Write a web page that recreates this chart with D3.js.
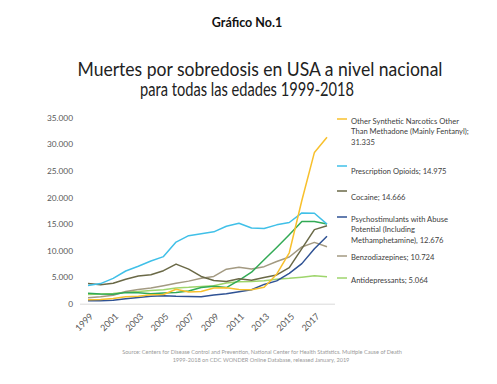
<!DOCTYPE html>
<html><head><meta charset="utf-8">
<script src="https://cdn.jsdelivr.net/npm/d3@7"></script>
<style>
body{margin:0;background:#fff;}
svg{display:block;font-family:Lato,"Open Sans",sans-serif;}
</style></head>
<body>
<svg id="c" width="497" height="384"></svg>
<script>
const years = d3.range(1999, 2019);
const tickYears = [1999,2001,2003,2005,2007,2009,2011,2013,2015,2017];
const yTicks = [0,5000,10000,15000,20000,25000,30000,35000];

const synthetic = [730,782,957,1295,1400,1664,1742,2707,2213,2306,2946,3007,2666,2628,3105,5544,9580,19413,28466,31335];
const prescription = [3442,3785,4770,6155,7038,8025,8863,11589,12796,13149,13523,14583,15140,14240,14145,14838,15281,17087,17029,14975];
const cocaine = [3822,3544,3833,4599,5199,5443,6208,7448,6512,5129,4350,4183,4681,4404,4944,5415,6784,10375,13942,14666];
const psychostim = [547,578,662,946,1169,1420,1475,1395,1378,1302,1632,1854,2266,2635,3627,4298,5716,7542,10333,12676];
const benzos = [1135,1298,1594,2279,2676,2954,3369,3835,4248,4795,5134,6497,6872,6524,6973,7945,8791,10684,11537,10724];
const antidepressants = [1749,1803,1917,2148,2290,2500,2633,2969,3082,3251,3363,3889,4140,4181,4312,4609,4770,4997,5269,5064];
const heroin = [1960,1842,1779,2089,2080,1878,2009,2088,2399,3041,3278,3036,4397,5925,8257,10574,12989,15469,15482,14996];

const seriesNames = ["synthetic","prescription","cocaine","psychostim","benzos","antidepressants","heroin"];
const seriesValues = [synthetic,prescription,cocaine,psychostim,benzos,antidepressants,heroin];
const seriesColors = ["#F8C02C","#40C0E8","#6A6947","#2F5294","#A39A82","#9ED56C","#32AA55"];
const legendLabels = [
  ["Other Synthetic Narcotics Other","Than Methadone (Mainly Fentanyl);","31.335"],
  ["Prescription Opioids; 14.975"],
  ["Cocaine; 14.666"],
  ["Psychostimulants with Abuse","Potential (Including","Methamphetamine), 12.676"],
  ["Benzodiazepines; 10.724"],
  ["Antidepressants; 5.064"]
];
const legendY = [119,166,191,217,256,278];
const legendTextY = [121,171,197,219,257,280];

const svg = d3.select("#c");
const x = d3.scaleLinear().domain([1999,2018]).range([88,327]);
const y = d3.scaleLinear().domain([0,35000]).range([303.7,117.7]);
const loc = d3.formatLocale({decimal:",",thousands:".",grouping:[3],currency:["",""]});
const fmt = loc.format(",");

// titles
svg.append("text").attr("x",247).attr("y",27).attr("text-anchor","middle")
  .attr("font-size",12.5).attr("font-weight","bold").attr("fill","#111").text("Gráfico No.1");
svg.append("text").attr("x",260).attr("y",76).attr("text-anchor","middle")
  .attr("font-size",18.5).attr("fill","#222").attr("textLength",365).attr("lengthAdjust","spacingAndGlyphs")
  .text("Muertes por sobredosis en USA a nivel nacional");
svg.append("text").attr("x",247).attr("y",96).attr("text-anchor","middle")
  .attr("font-size",18.5).attr("fill","#222").attr("textLength",214).attr("lengthAdjust","spacingAndGlyphs")
  .text("para todas las edades 1999-2018");

// y axis
const ya = svg.append("g").attr("transform","translate(75,0)")
  .call(d3.axisLeft(y).tickValues(yTicks).tickSize(0).tickPadding(2).tickFormat(fmt));
ya.select(".domain").remove();
ya.selectAll("text").attr("font-size",8.3).attr("fill","#595959").attr("font-family","Lato,sans-serif");

// x axis baseline
svg.append("line").attr("x1",80).attr("x2",335).attr("y1",y(0)+0.5).attr("y2",y(0)+0.5)
  .attr("stroke","#d9d9d9").attr("stroke-width",1);
const xa = svg.append("g").attr("transform",`translate(0,${y(0)})`)
  .call(d3.axisBottom(x).tickValues(tickYears).tickSize(0).tickFormat(d3.format("d")));
xa.select(".domain").remove();
xa.selectAll("text").attr("font-size",9).attr("fill","#595959").attr("font-family","Lato,sans-serif")
  .attr("text-anchor","end").attr("transform","translate(3,11) rotate(-45)").attr("dy","0.35em").attr("y",0).attr("x",0);

// lines
const line = d3.line().x((d,i)=>x(years[i])).y(d=>y(d));
const order = [5,4,6,3,2,1,0];
order.forEach(k=>{
  svg.append("path").datum(seriesValues[k]).attr("d",line).attr("fill","none")
    .attr("stroke",seriesColors[k]).attr("stroke-width",1.5).attr("stroke-linejoin","round");
});

// legend
legendLabels.forEach((lines,k)=>{
  svg.append("line").attr("x1",337).attr("x2",347).attr("y1",legendY[k]).attr("y2",legendY[k])
    .attr("stroke",seriesColors[k]).attr("stroke-width",1.5);
  const t = svg.append("text").attr("x",351).attr("y",legendTextY[k]).attr("font-size",7.6)
    .attr("fill","#404040").attr("dy","0.35em");
  lines.forEach((s,j)=>t.append("tspan").attr("x",351).attr("dy",j===0?"0.35em":"10.6").text(s));
});

// source
svg.append("text").attr("x",262).attr("y",354).attr("text-anchor","middle").attr("font-size",5.6)
  .attr("fill","#9a9a9a").text("Source: Centers for Disease Control and Prevention, National Center for Health Statistics. Multiple Cause of Death");
svg.append("text").attr("x",261).attr("y",362).attr("text-anchor","middle").attr("font-size",5.6)
  .attr("fill","#9a9a9a").text("1999-2018 on CDC WONDER Online Database, released January, 2019");
</script>
</body></html>
